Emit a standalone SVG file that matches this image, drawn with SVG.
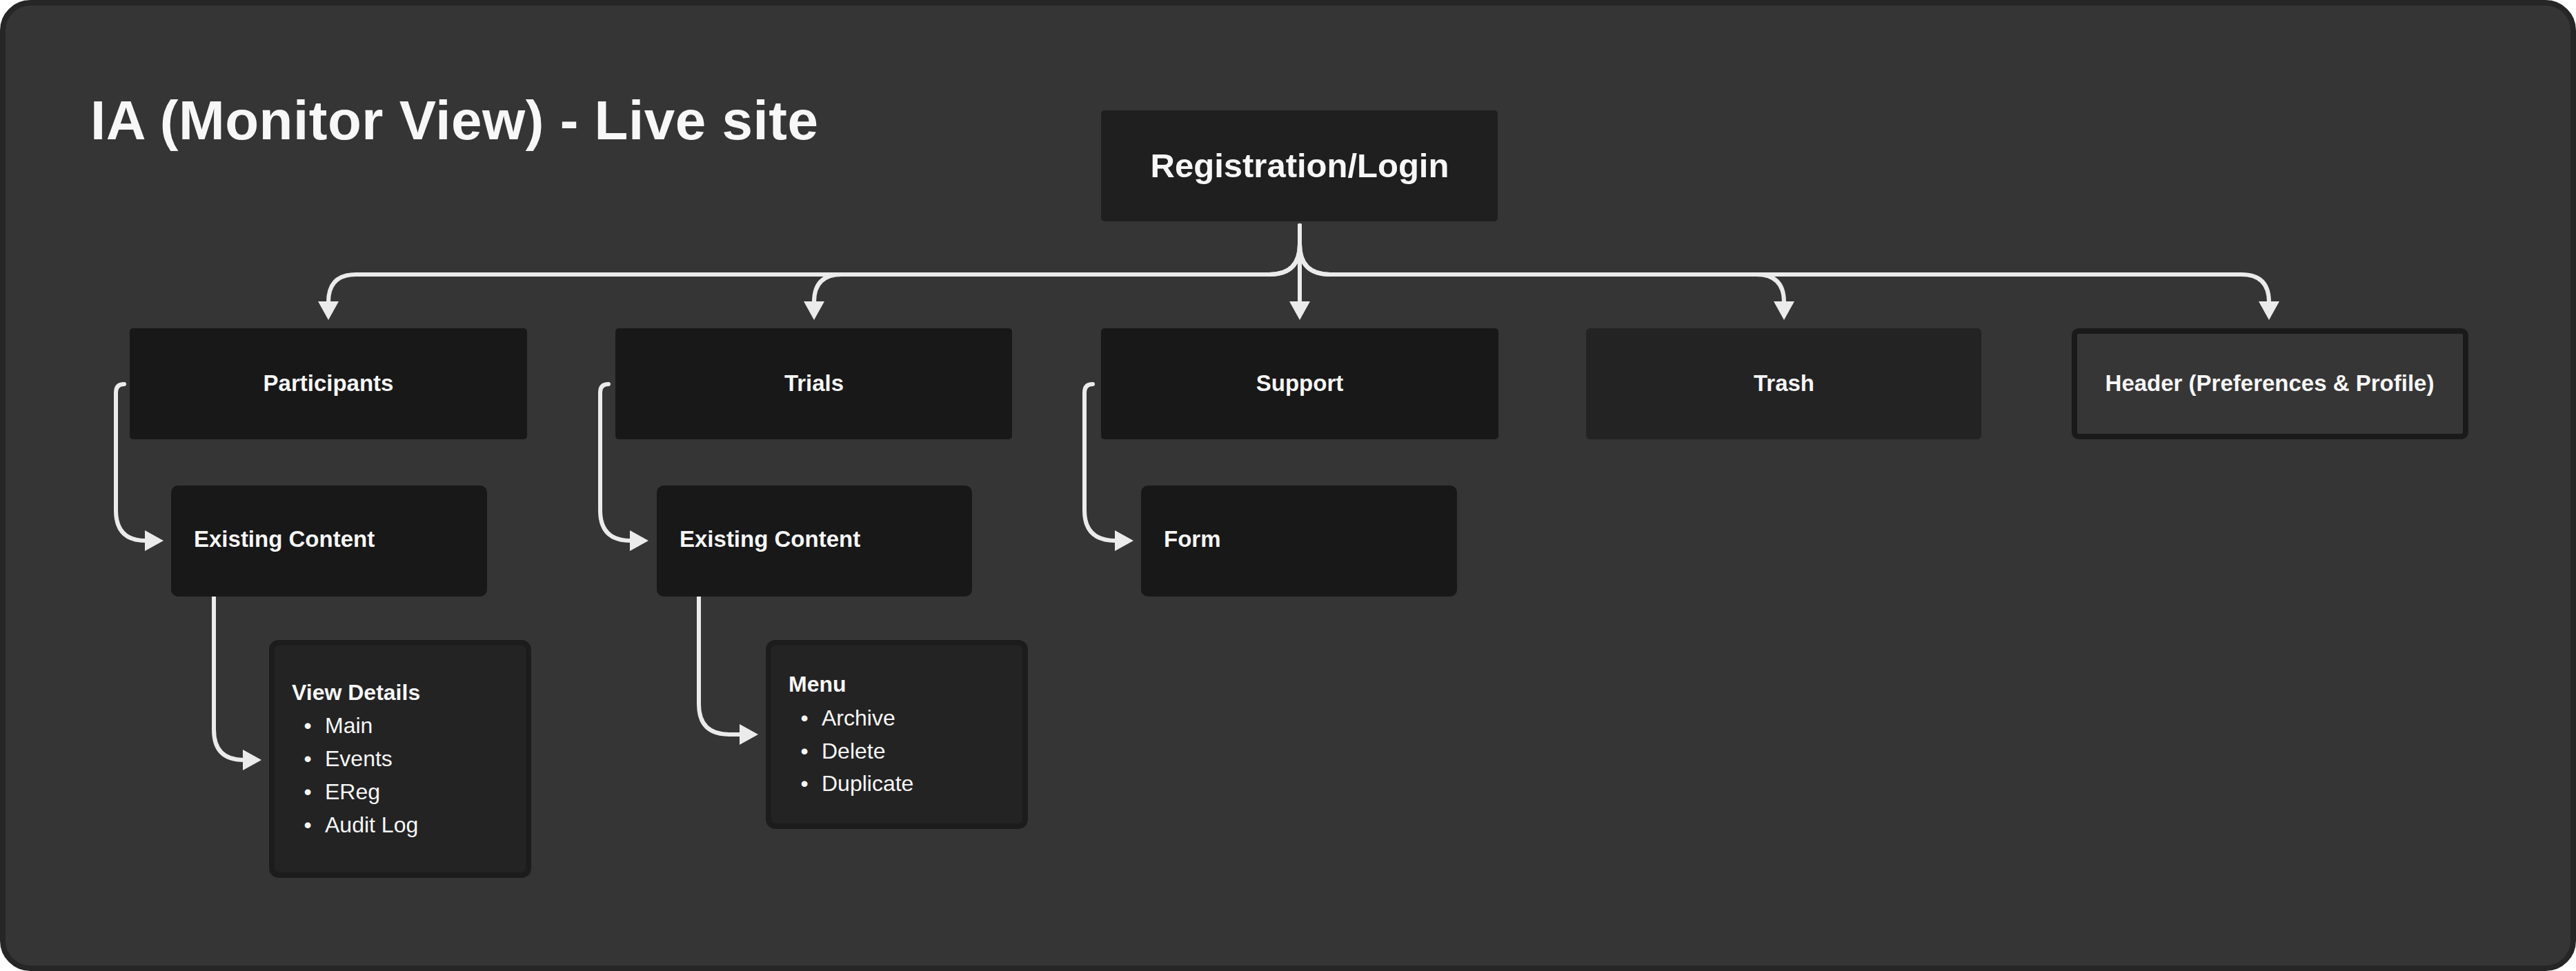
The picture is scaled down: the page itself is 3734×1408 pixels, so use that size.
<svg xmlns="http://www.w3.org/2000/svg" width="3734" height="1408" viewBox="0 0 3734 1408">
<defs>
<style>
.t{font-family:"Liberation Sans",Arial,sans-serif;fill:#f7f7f7}
.b{font-weight:700}
.lbl{font-size:33px;font-weight:700}
.item{font-size:32px;font-weight:400}
.box{fill:#181818}
.edge{fill:none;stroke:#ebebeb;stroke-width:6;stroke-linecap:round;stroke-linejoin:round}
</style>
<marker id="ah" viewBox="0 0 27 30" markerWidth="27" markerHeight="30" refX="1" refY="15" orient="auto" markerUnits="userSpaceOnUse">
<path d="M0,0 L27,15 L0,30 z" fill="#ebebeb"/>
</marker>
</defs>
<rect x="4" y="4" width="3726" height="1400" rx="40" fill="#353535" stroke="#262626" stroke-width="8"/>
<text class="t b" x="131" y="202" font-size="80" textLength="1055" lengthAdjust="spacing">IA (Monitor View) - Live site</text>

<g id="connectors">
<path class="edge" marker-end="url(#ah)" d="M1884,327 L1884,354 Q1884,398 1840,398 L516,398 Q476,398 476,438"/>
<path class="edge" marker-end="url(#ah)" d="M1884,327 L1884,354 Q1884,398 1840,398 L1220,398 Q1180,398 1180,438"/>
<path class="edge" marker-end="url(#ah)" d="M1884,327 L1884,438"/>
<path class="edge" marker-end="url(#ah)" d="M1884,327 L1884,354 Q1884,398 1928,398 L2546,398 Q2586,398 2586,438"/>
<path class="edge" marker-end="url(#ah)" d="M1884,327 L1884,354 Q1884,398 1928,398 L3249,398 Q3289,398 3289,438"/>
<path class="edge" marker-end="url(#ah)" d="M180,557 Q168,557 168,569 L168,740 Q168,784 211,784"/>
<path class="edge" marker-end="url(#ah)" d="M882,557 Q870,557 870,569 L870,740 Q870,784 914,784"/>
<path class="edge" marker-end="url(#ah)" d="M1584,557 Q1572,557 1572,569 L1572,740 Q1572,784 1617,784"/>
<path class="edge" marker-end="url(#ah)" d="M310,866 L310,1058 Q310,1102 353,1102"/>
<path class="edge" marker-end="url(#ah)" d="M1013,866 L1013,1021 Q1013,1065 1057,1065 L1073,1065"/>
</g>

<g id="registration">
<rect x="1596" y="160" width="575" height="161" rx="5" fill="#1f1f1f"/>
<text class="t b" x="1884" y="257" font-size="49" text-anchor="middle">Registration/Login</text>
</g>
<g id="participants">
<rect class="box" x="188" y="476" width="576" height="161" rx="5"/>
<text class="t lbl" x="476" y="567" text-anchor="middle">Participants</text>
</g>
<g id="trials">
<rect class="box" x="892" y="476" width="575" height="161" rx="5"/>
<text class="t lbl" x="1180" y="567" text-anchor="middle">Trials</text>
</g>
<g id="support">
<rect class="box" x="1596" y="476" width="576" height="161" rx="5"/>
<text class="t lbl" x="1884" y="567" text-anchor="middle">Support</text>
</g>
<g id="trash">
<rect x="2299" y="476" width="573" height="161" rx="6" fill="#232323"/>
<text class="t lbl" x="2586" y="567" text-anchor="middle">Trash</text>
</g>
<g id="header">
<rect x="3007" y="480" width="567" height="153" rx="6" fill="#363636" stroke="#1a1a1a" stroke-width="8"/>
<text class="t lbl" x="3290" y="567" text-anchor="middle">Header (Preferences &amp; Profile)</text>
</g>
<g id="existing-content-participants">
<rect class="box" x="248" y="704" width="458" height="161" rx="10"/>
<text class="t lbl" x="281" y="793">Existing Content</text>
</g>
<g id="existing-content-trials">
<rect class="box" x="952" y="704" width="457" height="161" rx="10"/>
<text class="t lbl" x="985" y="793">Existing Content</text>
</g>
<g id="form">
<rect class="box" x="1654" y="704" width="458" height="161" rx="10"/>
<text class="t lbl" x="1687" y="793">Form</text>
</g>
<g id="view-details">
<rect x="394" y="932" width="372" height="337" rx="10" fill="#232323" stroke="#1c1c1c" stroke-width="8"/>
<text class="t b" x="423" y="1015" font-size="32">View Details</text>
<text class="t item" x="446" y="1063" text-anchor="middle">•</text><text class="t item" x="471" y="1063">Main</text>
<text class="t item" x="446" y="1111" text-anchor="middle">•</text><text class="t item" x="471" y="1111">Events</text>
<text class="t item" x="446" y="1159" text-anchor="middle">•</text><text class="t item" x="471" y="1159">EReg</text>
<text class="t item" x="446" y="1207" text-anchor="middle">•</text><text class="t item" x="471" y="1207">Audit Log</text>
</g>
<g id="menu">
<rect x="1114" y="932" width="372" height="266" rx="10" fill="#232323" stroke="#1c1c1c" stroke-width="8"/>
<text class="t b" x="1143" y="1003" font-size="32">Menu</text>
<text class="t item" x="1166" y="1052" text-anchor="middle">•</text><text class="t item" x="1191" y="1052">Archive</text>
<text class="t item" x="1166" y="1100" text-anchor="middle">•</text><text class="t item" x="1191" y="1100">Delete</text>
<text class="t item" x="1166" y="1147" text-anchor="middle">•</text><text class="t item" x="1191" y="1147">Duplicate</text>
</g>
</svg>
